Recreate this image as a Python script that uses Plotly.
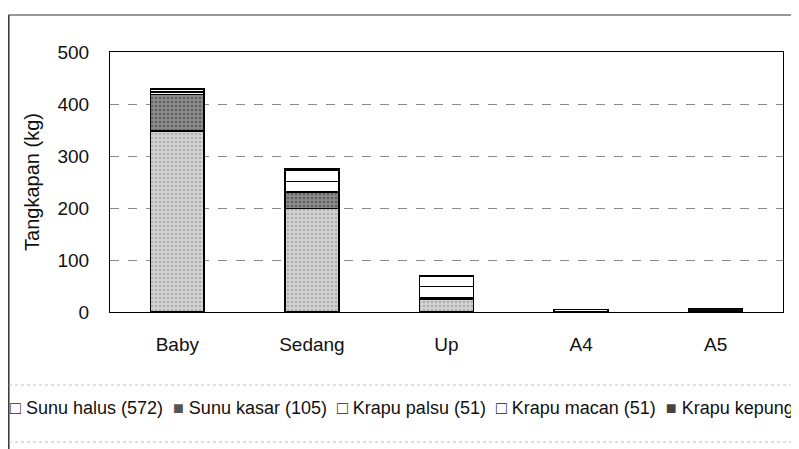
import plotly.graph_objects as go

categories = ["Baby", "Sedang", "Up", "A4", "A5"]
sunu_halus = [348, 199, 25, 0, 0]
sunu_kasar = [70, 32, 3, 0, 0]
krapu_palsu = [5, 20, 21, 5, 0]
krapu_macan = [6, 22, 20, 0, 3]
krapu_kepung = [1, 2, 0, 0, 4]
y_ticks = [0, 100, 200, 300, 400, 500]

series = [
    ("Sunu halus (572)", sunu_halus, "#d4d4d4", "#8a8a8a", ".", "□", "#333333"),
    ("Sunu kasar (105)", sunu_kasar, "#8c8c8c", "#333333", ".", "■", "#555555"),
    ("Krapu palsu (51)", krapu_palsu, "#ffffff", "#ffffff", "", "□", "#222222"),
    ("Krapu macan (51)", krapu_macan, "#ffffff", "#ffffff", "", "□", "#222222"),
    ("Krapu kepung (4)", krapu_kepung, "#111111", "#111111", "", "■", "#444444"),
]

# the page adds an 8px body margin, so the figure is drawn 8px in from the window edge
W, H = 791, 441
L, R, T, B = 102, 16, 44, 137
pw, ph = W - L - R, H - T - B


def px(x):
    return (x - L) / pw


def py(y):
    return (H - B - y) / ph


fig = go.Figure()
for name, vals, bg, fg, shape, sym, symcol in series:
    fig.add_trace(go.Bar(
        x=categories, y=vals, name=name, showlegend=False,
        marker=dict(color=bg, line=dict(color="#000000", width=1.5),
                    pattern=dict(shape=shape, fgcolor=fg, bgcolor=bg, size=4, solidity=0.35)),
    ))

legend_text = "\u00a0 ".join(
    f"<span style='color:{symcol}'>{sym}</span> {name}"
    for name, vals, bg, fg, shape, sym, symcol in series
)

fig.update_layout(
    barmode="stack",
    bargap=0.6,
    width=W, height=H,
    paper_bgcolor="white", plot_bgcolor="white",
    margin=dict(l=L, r=R, t=T, b=B, autoexpand=False),
    font=dict(family="Liberation Sans, Arial, sans-serif", color="#111111", size=19),
    yaxis=dict(range=[0, 500], tickvals=y_ticks, automargin=False,
               showgrid=True, gridcolor="#8a8a8a", griddash="dash", gridwidth=1,
               showline=True, linecolor="#000000", linewidth=1, mirror=True,
               ticks="", ticklabelstandoff=16,
               title=dict(text="Tangkapan (kg)", font=dict(size=20), standoff=12),
               zeroline=False),
    xaxis=dict(showline=True, linecolor="#000000", linewidth=1, mirror=True, ticks="",
               automargin=False, ticklabelstandoff=15, tickfont=dict(size=19)),
    showlegend=False,
    annotations=[
        dict(text=legend_text, xref="paper", yref="paper", x=px(0), y=py(400),
             xanchor="left", yanchor="middle", showarrow=False,
             font=dict(size=18, color="#111111")),
    ],
    shapes=[
        dict(type="line", xref="paper", yref="paper", x0=px(0.5), x1=px(W), y0=py(7), y1=py(7),
             line=dict(color="#333333", width=1)),
        dict(type="line", xref="paper", yref="paper", x0=px(0.8), x1=px(0.8), y0=py(7), y1=py(H),
             line=dict(color="#333333", width=1.5)),
        dict(type="line", xref="paper", yref="paper", x0=px(1), x1=px(W), y0=py(377), y1=py(377),
             line=dict(color="#c0c0c0", width=1, dash="dot")),
        dict(type="line", xref="paper", yref="paper", x0=px(1), x1=px(W), y0=py(434), y1=py(434),
             line=dict(color="#c0c0c0", width=1, dash="dot")),
    ],
)

fig.write_html("out.html")
